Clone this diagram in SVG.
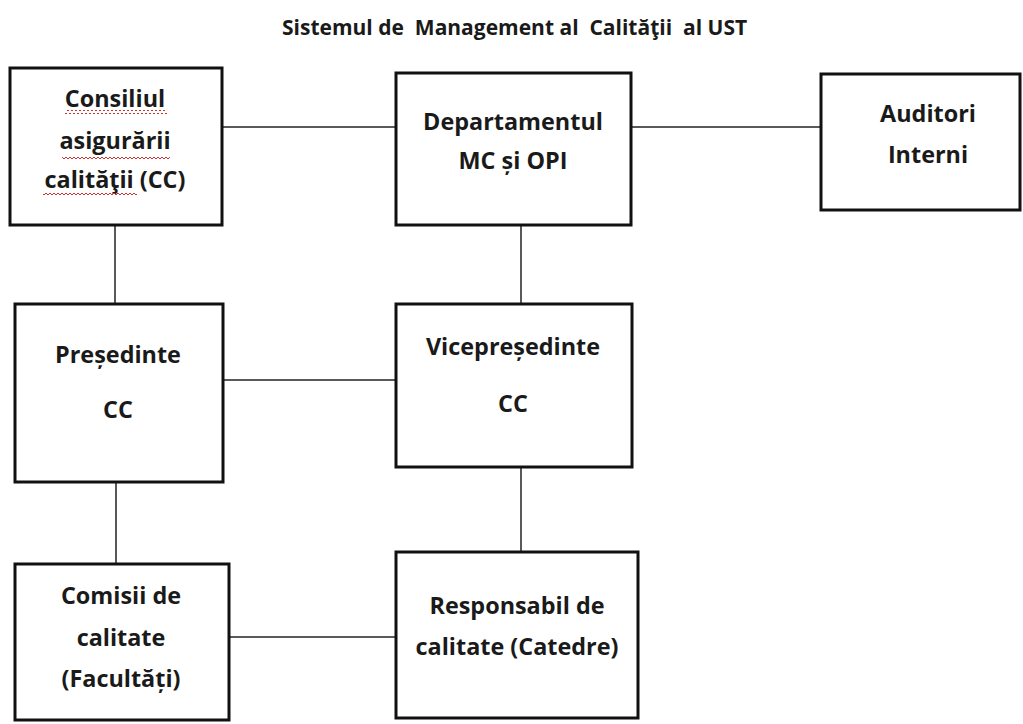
<svg xmlns="http://www.w3.org/2000/svg" width="1023" height="724" viewBox="0 0 1023 724">
<style>
.box{fill:#fff;stroke:#111;stroke-width:3}
.t{font-family:"Open Sans","Liberation Sans",sans-serif;font-weight:bold;font-size:23.4px;fill:#1a1a1a;text-anchor:middle}
.title{font-family:"Open Sans","Liberation Sans",sans-serif;font-weight:bold;font-size:21px;fill:#1a1a1a;white-space:pre}
.c{stroke:#222;stroke-width:1.5;fill:none}
.sq{stroke:#d03030;stroke-width:1;fill:none}
</style>
<defs>
<pattern id="wave" width="4" height="4" patternUnits="userSpaceOnUse"><path d="M0,3 L2,1 L4,3" class="sq"/></pattern>
</defs>
<rect width="1023" height="724" fill="#fff"/>
<text class="title" x="282" y="35" xml:space="preserve">Sistemul de  Management al  Calităţii  al UST</text>
<g id="connectors">
<line class="c" x1="222" y1="127" x2="396" y2="127"/>
<line class="c" x1="631" y1="127" x2="821" y2="127"/>
<line class="c" x1="115" y1="225" x2="115" y2="304"/>
<line class="c" x1="521" y1="225" x2="521" y2="304"/>
<line class="c" x1="223" y1="380" x2="396" y2="380"/>
<line class="c" x1="116" y1="482" x2="116" y2="564"/>
<line class="c" x1="521" y1="467" x2="521" y2="552"/>
<line class="c" x1="229" y1="637" x2="396" y2="637"/>
</g>
<g id="consiliul">
<rect class="box" x="10" y="68" width="212" height="157"/>
<text class="t" x="115" y="107">Consiliul</text>
<text class="t" x="115" y="149">asigurării</text>
<text class="t" x="115" y="188">calităţii (CC)</text>
<rect x="65" y="110" width="102" height="4" fill="url(#wave)"/>
<rect x="62" y="155" width="108" height="4" fill="url(#wave)"/>
<rect x="43" y="191" width="94" height="4" fill="url(#wave)"/>
</g>
<g id="departamentul">
<rect class="box" x="396" y="73" width="235" height="152"/>
<text class="t" x="513" y="130">Departamentul</text>
<text class="t" x="513" y="169">MC și OPI</text>
</g>
<g id="auditori">
<rect class="box" x="821" y="74" width="199" height="136"/>
<text class="t" x="928" y="122">Auditori</text>
<text class="t" x="928" y="163">Interni</text>
</g>
<g id="presedinte">
<rect class="box" x="15" y="304" width="208" height="178"/>
<text class="t" x="118" y="363">Președinte</text>
<text class="t" x="118" y="418">CC</text>
</g>
<g id="vicepresedinte">
<rect class="box" x="396" y="304" width="236" height="163"/>
<text class="t" x="513" y="355">Vicepreședinte</text>
<text class="t" x="513" y="412">CC</text>
</g>
<g id="comisii">
<rect class="box" x="15" y="564" width="214" height="156"/>
<text class="t" x="121" y="604">Comisii de</text>
<text class="t" x="121" y="646">calitate</text>
<text class="t" x="121" y="687">(Facultăți)</text>
</g>
<g id="responsabil">
<rect class="box" x="396" y="552" width="242" height="166"/>
<text class="t" x="517" y="614">Responsabil de</text>
<text class="t" x="517" y="655">calitate (Catedre)</text>
</g>
</svg>
